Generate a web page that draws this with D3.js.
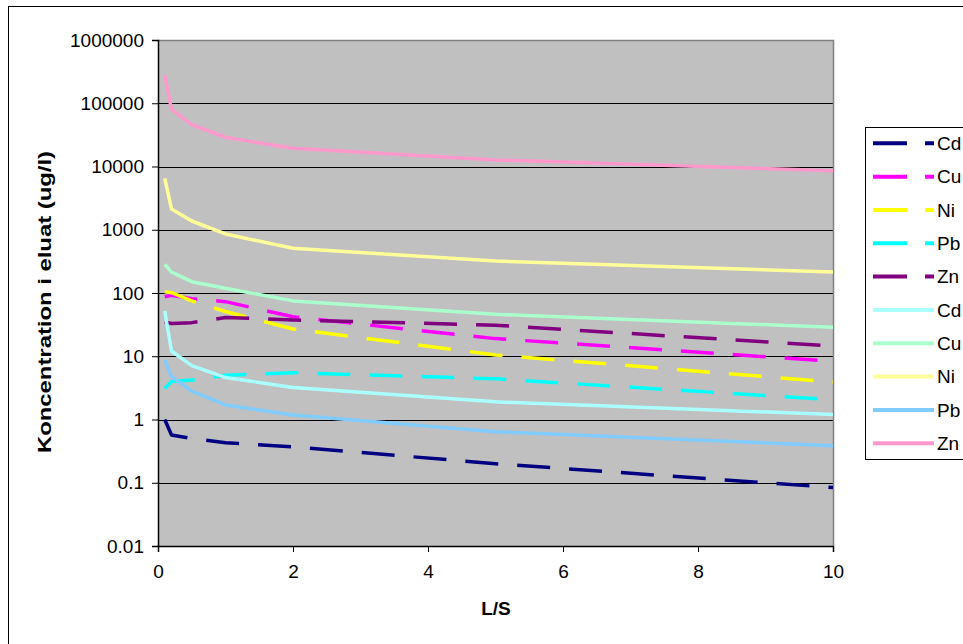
<!DOCTYPE html>
<html>
<head>
<meta charset="utf-8">
<script src="https://cdn.jsdelivr.net/npm/d3@7"></script>
<style>
  html, body { margin: 0; padding: 0; background: #fff; }
  svg { display: block; font-family: "Liberation Sans", Arial, sans-serif; }
</style>
</head>
<body>
<svg id="chart" width="963" height="644"></svg>
<script>
// ---- data ----
const ls = [0.1, 0.2, 0.5, 1, 2, 5, 10];
const seriesNames = ["Cd", "Cu", "Ni", "Pb", "Zn", "Cd", "Cu", "Ni", "Pb", "Zn"];
const cdDashed = [1.0, 0.57, 0.5, 0.43, 0.37, 0.2, 0.084];
const cuDashed = [87, 92, 81, 73, 42, 19, 8.3];
const niDashed = [105, 101, 75, 51, 27, 10.5, 3.9];
const pbDashed = [3.1, 4.0, 4.2, 5.0, 5.5, 4.4, 2.05];
const znDashed = [35, 33, 34, 41, 37.5, 31, 14.5];
const cdSolid = [52, 12.1, 7.1, 4.6, 3.2, 1.9, 1.2];
const cuSolid = [284, 215, 151, 119, 75, 46, 28.7];
const niSolid = [6500, 2130, 1375, 857, 510, 320, 215];
const pbSolid = [8.7, 4.75, 2.8, 1.7, 1.18, 0.64, 0.385];
const znSolid = [280000, 80000, 46000, 29000, 19400, 12700, 8600];
const yTicks = [0.01, 0.1, 1, 10, 100, 1000, 10000, 100000, 1000000];
const yTickLabels = ["0.01", "0.1", "1", "10", "100", "1000", "10000", "100000", "1000000"];
const xTicks = [0, 2, 4, 6, 8, 10];
const xTitle = "L/S";
const yTitle = "Koncentration i eluat (ug/l)";

const seriesValues = [cdDashed, cuDashed, niDashed, pbDashed, znDashed,
                      cdSolid, cuSolid, niSolid, pbSolid, znSolid];
const seriesColors = ["#000080", "#ff00ff", "#ffff00", "#00ffff", "#800080",
                      "#aaffff", "#aaffcc", "#ffff99", "#80ccff", "#ff99cc"];
const seriesDashed = [true, true, true, true, true, false, false, false, false, false];

// ---- layout ----
const svg = d3.select("#chart");
const L = 158, R = 833, T = 40, B = 546;

svg.append("rect").attr("x", 0).attr("y", 0).attr("width", 963).attr("height", 644).attr("fill", "#fff");
svg.append("rect").attr("x", 8.5).attr("y", 6.5).attr("width", 1000).attr("height", 700)
  .attr("fill", "none").attr("stroke", "#000").attr("stroke-width", 1);

const x = d3.scaleLinear().domain([0, 10]).range([L, R]);
const y = d3.scaleLog().domain([0.01, 1000000]).range([B, T]);

// plot area
svg.append("rect").attr("x", L).attr("y", T).attr("width", R - L).attr("height", B - T)
  .attr("fill", "#c0c0c0");

// gridlines
svg.append("g").selectAll("line").data(yTicks.slice(1, -1)).join("line")
  .attr("x1", L).attr("x2", R)
  .attr("y1", d => Math.round(y(d)) + 0.5).attr("y2", d => Math.round(y(d)) + 0.5)
  .attr("stroke", "#000").attr("stroke-width", 1.2);

// plot border top/right
svg.append("path")
  .attr("d", `M${L},${T + 0.5}H${R + 0.5}V${B}`)
  .attr("fill", "none").attr("stroke", "#808080").attr("stroke-width", 1.5);

// series
const line = d3.line().x((d, i) => x(ls[i])).y(d => y(d));
seriesValues.forEach((vals, k) => {
  svg.append("path").datum(vals)
    .attr("d", line)
    .attr("fill", "none")
    .attr("stroke", seriesColors[k])
    .attr("stroke-width", 3.5)
    .attr("stroke-linejoin", "round")
    .attr("stroke-dasharray", seriesDashed[k] ? "33,19" : null);
});

// axes
const yAxis = d3.axisLeft(y).tickValues(yTicks)
  .tickFormat((d, i) => yTickLabels[i]).tickSize(6).tickPadding(8);
const gy = svg.append("g").attr("transform", `translate(${L},0)`).call(yAxis);
const xAxis = d3.axisBottom(x).tickValues(xTicks).tickFormat(d3.format("d")).tickSize(6).tickPadding(13);
const gx = svg.append("g").attr("transform", `translate(0,${B})`).call(xAxis);
[gy, gx].forEach(g => {
  g.select(".domain").attr("stroke", "#000").attr("stroke-width", 1.5);
  g.selectAll(".tick line").attr("stroke", "#000").attr("stroke-width", 1);
  g.selectAll("text").attr("font-size", 19).attr("fill", "#000")
    .attr("font-family", "'Liberation Sans', Arial, sans-serif");
});

// titles
svg.append("text").attr("x", 496).attr("y", 615).attr("text-anchor", "middle")
  .attr("font-size", 19).attr("font-weight", "bold").text(xTitle);
svg.append("text").attr("transform", "translate(51,302) rotate(-90)")
  .attr("text-anchor", "middle").attr("font-size", 19).attr("font-weight", "bold")
  .attr("textLength", 302).attr("lengthAdjust", "spacingAndGlyphs").text(yTitle);

// legend
const lg = svg.append("g");
lg.append("rect").attr("x", 865.5).attr("y", 127.5).attr("width", 200).attr("height", 332)
  .attr("fill", "#fff").attr("stroke", "#000").attr("stroke-width", 1);
seriesNames.forEach((name, k) => {
  const cy = 143.3 + k * 33.33;
  lg.append("line").attr("x1", 873).attr("x2", 934).attr("y1", cy).attr("y2", cy)
    .attr("stroke", seriesColors[k]).attr("stroke-width", 4)
    .attr("stroke-dasharray", seriesDashed[k] ? "34,18" : null);
  lg.append("text").attr("x", 937).attr("y", cy).attr("dy", "0.35em")
    .attr("font-size", 19).text(name);
});
</script>
</body>
</html>
